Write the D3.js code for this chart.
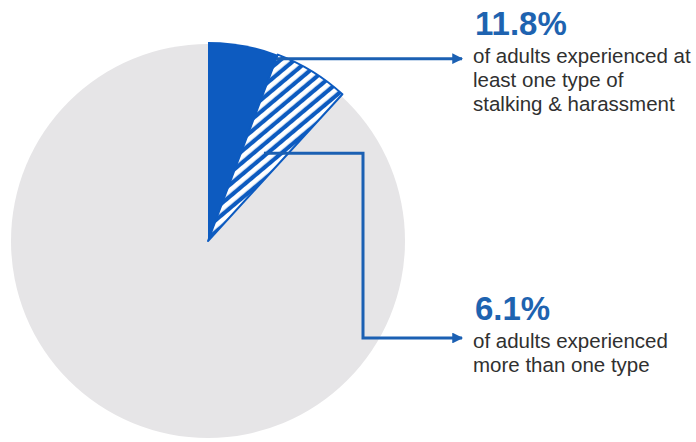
<!DOCTYPE html>
<html>
<head>
<meta charset="utf-8">
<script src="https://cdn.jsdelivr.net/npm/d3@7"></script>
<style>
  body { margin: 0; background: #fff; }
  text { font-family: "Liberation Sans", Arial, sans-serif; }
</style>
</head>
<body>
<div id="drawing"></div>
<script>
// Data
const categories = ["One type only", "More than one type", "None"];
const values = [5.7, 6.1, 88.2];
const bigLabels = ["11.8%", "6.1%"];
const noteLines = [
  ["of adults experienced at", "least one type of", "stalking & harassment"],
  ["of adults experienced", "more than one type"]
];

// SVG dimensions
const svgWidth = 696;
const svgHeight = 442;

const svg = d3.select("#drawing")
  .append("svg")
  .attr("width", svgWidth)
  .attr("height", svgHeight);

const blue = "#0d5bc0";
const lineBlue = "#1b60b3";

// hatch pattern + arrow marker
const defs = svg.append("defs");
const pat = defs.append("pattern")
  .attr("id", "hatch")
  .attr("patternUnits", "userSpaceOnUse")
  .attr("width", 9)
  .attr("height", 9)
  .attr("patternTransform", "rotate(50)");
pat.append("rect").attr("width", 9).attr("height", 9).attr("fill", blue);
pat.append("rect").attr("x", 0).attr("width", 4.8).attr("height", 9).attr("fill", "#fff");

defs.append("marker")
  .attr("id", "arrow")
  .attr("viewBox", "0 0 10 10")
  .attr("refX", 9)
  .attr("refY", 5)
  .attr("markerWidth", 4.2)
  .attr("markerHeight", 3.6)
  .attr("markerUnits", "strokeWidth")
  .attr("orient", "auto")
  .append("path")
  .attr("d", "M0,0 L10,5 L0,10 Z")
  .attr("fill", lineBlue);

const cx = 208, cy = 241;
const g = svg.append("g").attr("transform", `translate(${cx},${cy})`);

// grey background disc
g.append("circle").attr("r", 197).attr("fill", "#e6e5e7");

const pie = d3.pie().sort(null).value(d => d)(values);
const arc = d3.arc().innerRadius(0).outerRadius(199);

// solid slice
g.append("path")
  .attr("d", arc(pie[0]))
  .attr("fill", blue);

// hatched slice
g.append("path")
  .attr("d", arc(pie[1]))
  .attr("fill", "url(#hatch)")
  .attr("stroke", blue)
  .attr("stroke-width", 2)
  .attr("stroke-linejoin", "round");

// Connectors
const textX = 473;
const tip = 462;

// top connector: from the slice boundary at the rim
const a1 = pie[0].endAngle;
const y1 = cy - 199 * Math.cos(a1) + 4;
const x1 = cx + (cy - y1) * Math.tan(a1);
svg.append("path")
  .attr("d", `M${x1},${y1} H${tip}`)
  .attr("fill", "none")
  .attr("stroke", lineBlue)
  .attr("stroke-width", 3)
  .attr("marker-end", "url(#arrow)");

// second connector: from hatched slice centroid
const c2 = arc.centroid(pie[1]);
const sx = cx + c2[0] + 4, sy = cy + c2[1] - 3;
svg.append("path")
  .attr("d", `M${sx},${sy} H363 V338 H${tip}`)
  .attr("fill", "none")
  .attr("stroke", lineBlue)
  .attr("stroke-width", 3)
  .attr("stroke-linejoin", "miter")
  .attr("marker-end", "url(#arrow)");

// Labels
const labelTops = [35, 320];
bigLabels.forEach((lab, i) => {
  svg.append("text")
    .attr("x", textX + 2)
    .attr("y", labelTops[i])
    .attr("font-size", 33)
    .attr("font-weight", "bold")
    .attr("fill", "#1e63b0")
    .text(lab);
  noteLines[i].forEach((ln, j) => {
    svg.append("text")
      .attr("x", textX)
      .attr("y", labelTops[i] + 28 + j * 24)
      .attr("font-size", 20.5)
      .attr("fill", "#303030")
      .text(ln);
  });
});
</script>
</body>
</html>
